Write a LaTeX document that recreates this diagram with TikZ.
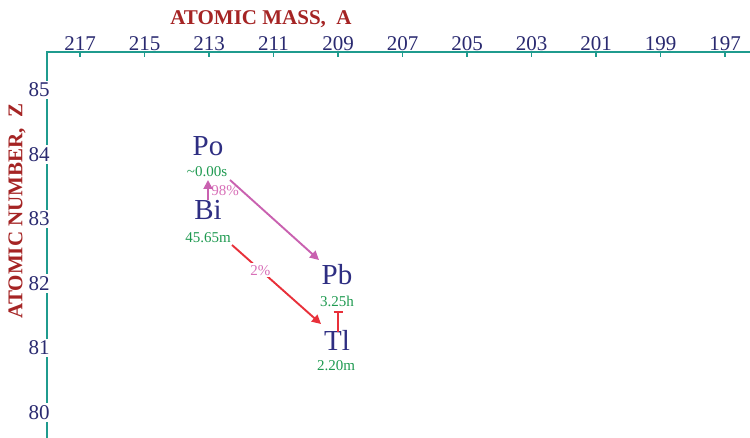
\documentclass[tikz,border=0pt]{standalone}
\usepackage{fontspec}
\setmainfont{Liberation Serif}
\usetikzlibrary{arrows.meta}
\definecolor{axisc}{HTML}{1F9B8E}
\definecolor{numc}{HTML}{2A2A70}
\definecolor{elemc}{HTML}{2E2E82}
\definecolor{lifec}{HTML}{1E9A50}
\definecolor{titlec}{HTML}{A52424}
\definecolor{alphac}{HTML}{C961B0}
\definecolor{redc}{HTML}{E8303A}
\definecolor{pctc}{HTML}{D870B8}
\tikzset{
  axisline/.style={draw=axisc, line width=1.4pt},
  tick/.style={draw=axisc, line width=1.2pt},
  toplabel/.style={text=numc, font=\fontsize{21}{24}\selectfont, anchor=base, inner sep=0pt},
  zlabel/.style={text=numc, font=\fontsize{21}{24}\selectfont, fill=white, inner sep=2pt},
  elem/.style={text=elemc, font=\fontsize{29}{33}\selectfont, inner sep=0pt},
  life/.style={text=lifec, font=\fontsize{15}{17}\selectfont, inner sep=0pt},
  axtitle/.style={text=titlec, font=\bfseries\fontsize{21}{24}\selectfont, inner sep=0pt},
  decaypink/.style={draw=alphac, line width=1.9pt, -{Triangle[length=9pt,width=9pt]}},
  decayred/.style={draw=redc, line width=1.9pt, -{Triangle[length=9pt,width=9pt]}},
  pct/.style={text=pctc, font=\fontsize{15}{17}\selectfont, inner sep=1pt}
}
\begin{document}
\begin{tikzpicture}[x=1pt,y=-1pt]
\useasboundingbox[fill=white] (0,0) rectangle (750,438);

% axes
\coordinate (corner) at (47,52);
\coordinate (xend) at (750,52);
\coordinate (yend) at (47,438);
\draw[axisline] (xend) -- (corner) -- (yend);

% top ticks and labels
\foreach \m [count=\i from 0] in {217,215,213,211,209,207,205,203,201,199,197} {
  \coordinate (t\m) at ({80+\i*64.5},52);
  \draw[tick] (t\m) -- ++(0,5);
  \node[toplabel] (lab\m) at ({80+\i*64.5},51) {\m};
}

% left labels
\foreach \z [count=\i from 0] in {85,84,83,82,81,80} {
  \node[zlabel] (z\z) at (39,{90+\i*64.5}) {\z};
}

% axis titles
\node[axtitle] (xtitle) at (261,19) {ATOMIC MASS,\ \ A};
\node[axtitle, rotate=90] (ytitle) at (17,211) {ATOMIC NUMBER,\ \ Z};

% nuclides
\node[elem] (Po) at (208,146) {Po};
\node[life] (Polife) at (207,172) {\textasciitilde0.00s};
\node[elem] (Bi) at (208,210) {Bi};
\node[life] (Bilife) at (208,238) {45.65m};
\node[elem] (Pb) at (337,275) {Pb};
\node[life] (Pblife) at (337,301) {3.25h};
\node[elem] (Tl) at (337,340) {Tl};
\node[life] (Tllife) at (336,366) {2.20m};

% decay arrows
\coordinate (BiPoS) at (208,200);
\coordinate (BiPoE) at (208,180);
\coordinate (PoPbS) at (230,180);
\coordinate (PoPbE) at (319,260);
\coordinate (BiTlS) at (232,245);
\coordinate (BiTlE) at (321,324);
\coordinate (TlPbS) at (338,332);
\coordinate (TlPbE) at (338,311);

\node[pct] (p98) at (225,191) {98\%};
\draw[decaypink] (BiPoS) -- (BiPoE);
\draw[decaypink] (PoPbS) -- (PoPbE);
\draw[decayred] (BiTlS) -- node[pct, pos=0.32, fill=white, inner sep=2pt] (p2) {2\%} (BiTlE);
\draw[draw=redc, line width=1.9pt, -{Bar[width=9pt]}] (TlPbS) -- (TlPbE);
\end{tikzpicture}
\end{document}
